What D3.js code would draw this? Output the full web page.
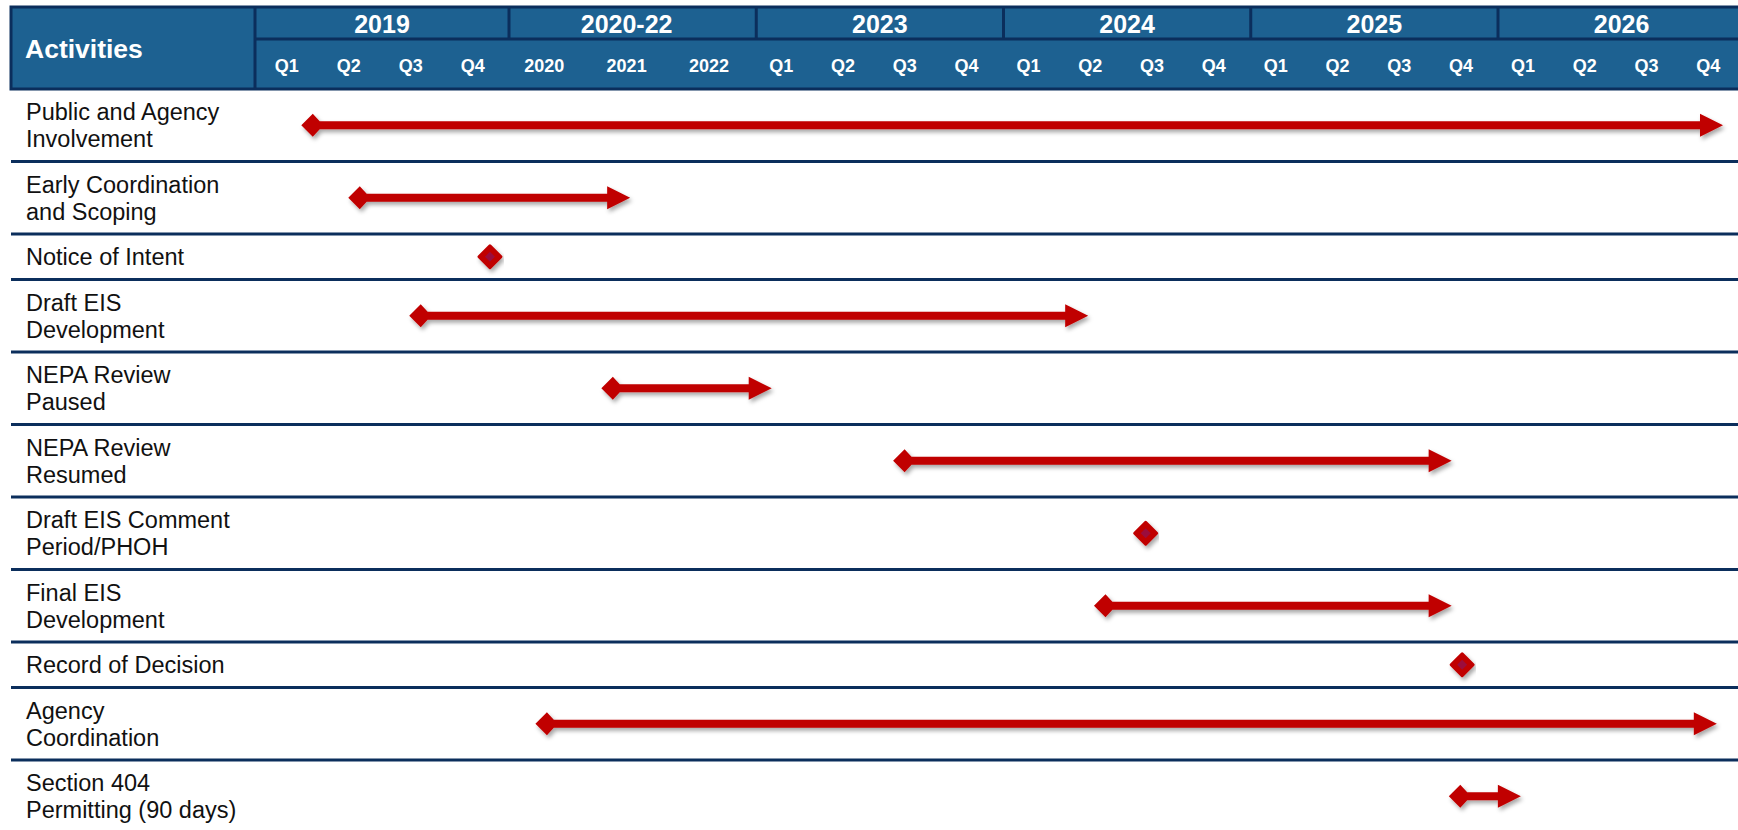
<!DOCTYPE html>
<html>
<head>
<meta charset="utf-8">
<script src="https://cdn.jsdelivr.net/npm/d3@7"></script>
<style>
  html, body { margin: 0; padding: 0; background: #ffffff; overflow: hidden; }
  svg { display: block; font-family: "Liberation Sans", Arial, sans-serif; }
</style>
</head>
<body>
<svg id="chart" width="1738" height="830"></svg>
<script>
// ---------- data ----------
const yearGroups = ["2019", "2020-22", "2023", "2024", "2025", "2026"];
const periodLabels = [
  ["Q1", "Q2", "Q3", "Q4"],
  ["2020", "2021", "2022"],
  ["Q1", "Q2", "Q3", "Q4"],
  ["Q1", "Q2", "Q3", "Q4"],
  ["Q1", "Q2", "Q3", "Q4"],
  ["Q1", "Q2", "Q3", "Q4"]
];
const activities = [
  ["Public and Agency", "Involvement"],
  ["Early Coordination", "and Scoping"],
  ["Notice of Intent"],
  ["Draft EIS", "Development"],
  ["NEPA Review", "Paused"],
  ["NEPA Review", "Resumed"],
  ["Draft EIS Comment", "Period/PHOH"],
  ["Final EIS", "Development"],
  ["Record of Decision"],
  ["Agency", "Coordination"],
  ["Section 404", "Permitting (90 days)"]
];
// positions in timeline period units (0 = start of 2019 Q1; 4 = start of 2020-22; 7 = start of 2023 ...)
const startPeriod = [0.91, 1.65, 3.70, 2.61, 5.26, 9.40, 13.30, 12.65, 18.42, 4.46, 18.39];
const endPeriod   = [22.64, 5.47, null, 12.37, 7.25, 18.25, null, 18.25, null, 22.54, 19.37];

// ---------- layout ----------
const W = 1738, H = 830;
const left = 11, labelColRight = 255;
const headerTop = 7, headerMid = 39, headerBottom = 89;
const navy = "#0b2e5c", headerFill = "#1d6191", red = "#c00000";

const svg = d3.select("#chart");

// drop shadow filter
const defs = svg.append("defs");
const f = defs.append("filter").attr("id", "shadow")
  .attr("x", "-10%").attr("y", "-50%").attr("width", "120%").attr("height", "220%");
f.append("feDropShadow").attr("dx", 2).attr("dy", 3).attr("stdDeviation", 2.2)
  .attr("flood-color", "#000").attr("flood-opacity", 0.35);

// piecewise time scale
const counts = periodLabels.map(p => p.length);
const breaks = [0];
counts.forEach(c => breaks.push(breaks[breaks.length - 1] + c));
const yearEdges = [labelColRight, 509];
for (let i = 2; i < breaks.length; i++) yearEdges.push(509 + (i - 1) * 247.25);
const x = d3.scaleLinear().domain(breaks).range(yearEdges);

// rows
const twoLineH = 72.5, oneLineH = 45.5;
const rowTops = [];
let yy = headerBottom;
activities.forEach(a => { rowTops.push(yy); yy += a.length > 1 ? twoLineH : oneLineH; });
const rowH = activities.map(a => a.length > 1 ? twoLineH : oneLineH);

// ---------- header ----------
const hdr = svg.append("g");
hdr.append("rect").attr("x", left).attr("y", headerTop)
  .attr("width", W + 20 - left).attr("height", headerBottom - headerTop)
  .attr("fill", headerFill).attr("stroke", navy).attr("stroke-width", 3);
hdr.append("line").attr("x1", labelColRight).attr("x2", labelColRight)
  .attr("y1", headerTop).attr("y2", headerBottom).attr("stroke", navy).attr("stroke-width", 3);
hdr.append("line").attr("x1", labelColRight).attr("x2", W + 20)
  .attr("y1", headerMid).attr("y2", headerMid).attr("stroke", navy).attr("stroke-width", 3);
hdr.selectAll("line.yb").data(breaks.slice(1, -1)).enter().append("line")
  .attr("x1", d => x(d)).attr("x2", d => x(d))
  .attr("y1", headerTop).attr("y2", headerMid).attr("stroke", navy).attr("stroke-width", 3);

hdr.append("text").attr("x", 25).attr("y", 58).text("Activities")
  .attr("fill", "#fff").attr("font-weight", "bold").attr("font-size", 26.5);

hdr.selectAll("text.year").data(yearGroups).enter().append("text")
  .attr("class", "year")
  .attr("x", (d, i) => (x(breaks[i]) + x(breaks[i + 1])) / 2 + (i === 1 ? -6 : 0))
  .attr("y", 33).attr("text-anchor", "middle")
  .attr("fill", "#fff").attr("font-weight", "bold").attr("font-size", 25)
  .text(d => d);

const periods = [];
periodLabels.forEach((arr, g) => arr.forEach((lab, k) => periods.push({ lab, g, idx: breaks[g] + k })));
hdr.selectAll("text.per").data(periods).enter().append("text")
  .attr("class", "per")
  .attr("x", d => (x(d.idx) + x(d.idx + 1)) / 2 + (d.g === 0 ? -1.5 * (d.idx) : -6))
  .attr("y", 72).attr("text-anchor", "middle")
  .attr("fill", "#fff").attr("font-weight", "bold").attr("font-size", 18)
  .text(d => d.lab);

// ---------- rows ----------
const body = svg.append("g");
body.selectAll("line.row").data(rowTops.slice(1)).enter().append("line")
  .attr("x1", left).attr("x2", W + 20).attr("y1", d => d).attr("y2", d => d)
  .attr("stroke", navy).attr("stroke-width", 3);

activities.forEach((lines, i) => {
  const c = rowTops[i] + rowH[i] / 2;
  const b1 = lines.length > 1 ? c - 5 : c + 8.5;
  const t = body.append("text").attr("x", 26).attr("y", b1)
    .attr("font-size", 23.5).attr("fill", "#111");
  lines.forEach((ln, j) => {
    t.append("tspan").attr("x", 26).attr("y", b1 + j * 27).text(ln);
  });
});

// ---------- marks ----------
const marks = svg.append("g");
const dHalf = 11.5, shaft = 4, headL = 23, headH = 11.5;
activities.forEach((a, i) => {
  const c = rowTops[i] + rowH[i] / 2;
  const x1 = x(startPeriod[i]);
  if (endPeriod[i] == null) {
    // milestone diamond
    const s = 11;
    const p = `M${x1},${c - s} L${x1 + s},${c} L${x1},${c + s} L${x1 - s},${c} Z`;
    marks.append("path").attr("d", p).attr("fill", red).attr("stroke", red)
      .attr("stroke-width", 3).attr("stroke-linejoin", "round").attr("filter", "url(#shadow)");
    const s2 = 5;
    marks.append("path")
      .attr("d", `M${x1},${c - s2} L${x1 + s2},${c} L${x1},${c + s2} L${x1 - s2},${c} Z`)
      .attr("fill", "#9b0d3c");
  } else {
    const x2 = x(endPeriod[i]);
    const hb = x2 - headL;
    const p = [
      [x1 - dHalf, c], [x1, c - dHalf], [x1 + dHalf * 0.6, c - shaft],
      [hb, c - shaft], [hb, c - headH], [x2, c], [hb, c + headH], [hb, c + shaft],
      [x1 + dHalf * 0.6, c + shaft], [x1, c + dHalf]
    ];
    marks.append("path").attr("d", "M" + p.map(q => q.join(",")).join("L") + "Z")
      .attr("fill", red).attr("filter", "url(#shadow)");
  }
});
</script>
</body>
</html>
